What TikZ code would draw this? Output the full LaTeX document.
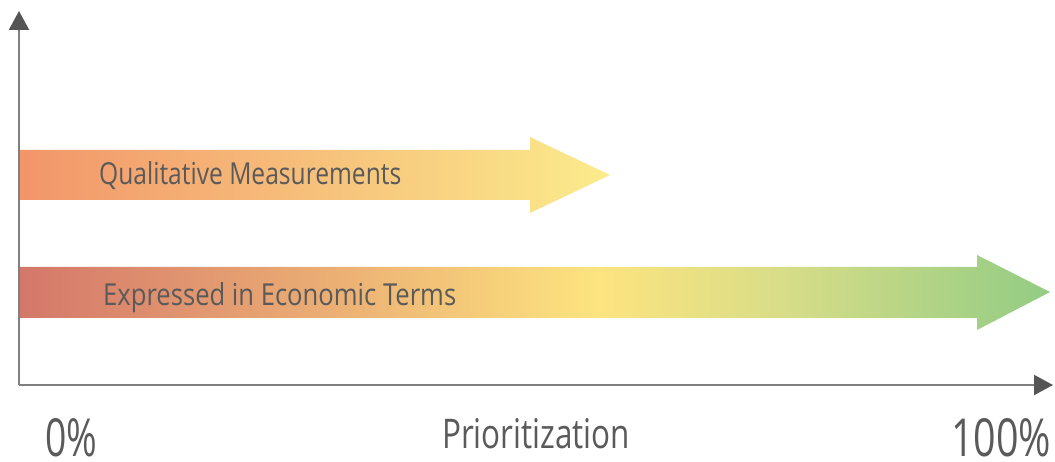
\documentclass[tikz,border=0pt]{standalone}
\usepackage{fontspec}
\setmainfont{Open Sans}
\usetikzlibrary{arrows.meta}
\definecolor{axline}{HTML}{808080}
\definecolor{axtip}{HTML}{555555}
\definecolor{txt}{HTML}{5A5A5A}
\definecolor{aA}{HTML}{F2956A}
\definecolor{aB}{HTML}{FBEC8C}
\definecolor{bA}{HTML}{D4776A}
\definecolor{bB}{HTML}{EBAE74}
\definecolor{bC}{HTML}{FDE47F}
\definecolor{bD}{HTML}{D8DD88}
\definecolor{bE}{HTML}{92CC84}
\pgfdeclarehorizontalshading{qualshade}{100bp}{color(0bp)=(aA); color(25bp)=(aA); color(75bp)=(aB); color(100bp)=(aB)}
\pgfdeclarehorizontalshading{econshade}{100bp}{color(0bp)=(bA); color(25bp)=(bA); color(40bp)=(bB); color(53bp)=(bC); color(62bp)=(bD); color(75bp)=(bE); color(100bp)=(bE)}
\tikzset{
  axis/.style={draw=axline, line width=2pt, -{Triangle[width=20pt,length=19pt,color=axtip]}},
  lbl/.style={anchor=base west, inner sep=0pt, text=txt},
}
\begin{document}
\begin{tikzpicture}[x=1pt,y=-1pt]
\useasboundingbox[fill=white] (0,0) rectangle (1055,462);
% arrows
\shade[shading=qualshade] (19,150) -- (530,150) -- (530,137) -- (610,175) -- (530,213) -- (530,200) -- (19,200) -- cycle;
\shade[shading=econshade] (19,267) -- (977,267) -- (977,255) -- (1050,292) -- (977,330) -- (977,318) -- (19,318) -- cycle;
% axes
\coordinate (O) at (19,385);
\coordinate (ytip) at (19,11);
\coordinate (xtip) at (1053,385);
\draw[axis] (O) -- (ytip);
\draw[axis] (O) -- (xtip);
% labels
\node[lbl] (qual) at (99,185) {\resizebox{302pt}{23pt}{Qualitative Measurements}};
\node[lbl] (econ) at (103,306) {\resizebox{353pt}{23pt}{Expressed in Economic Terms}};
\node[lbl] (zero) at (45,456) {\raisebox{0pt}[\height][0pt]{\resizebox{52pt}{38pt}{0\%}}};
\node[lbl] (prio) at (442,448) {\resizebox{188pt}{30pt}{Prioritization}};
\node[lbl] (hund) at (951,456) {\raisebox{0pt}[\height][0pt]{\resizebox{100pt}{38pt}{100\%}}};
\end{tikzpicture}
\end{document}
